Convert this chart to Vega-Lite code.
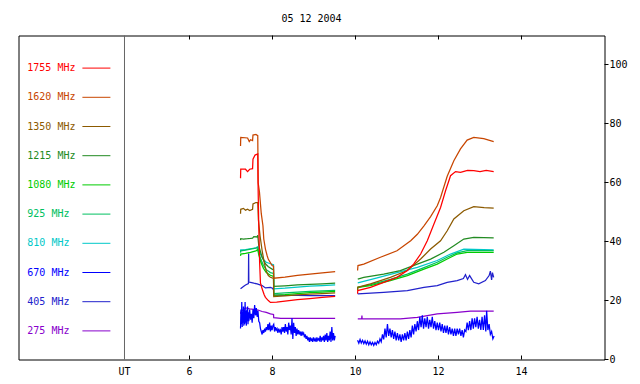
{
"$schema": "https://vega.github.io/schema/vega-lite/v6.json",
"width": 586, "height": 324,
"autosize": "none",
"padding": {"left": 18.5, "top": 35.5, "right": 35.5, "bottom": 24.5},
"background": "white",
"title": {"text": "05 12 2004", "font": "DejaVu Sans Mono", "fontSize": 10, "fontWeight": "normal", "color": "black", "anchor": "middle", "frame": "group", "baseline": "alphabetic", "offset": 3},
"config": {"view": {"stroke": "black", "strokeWidth": 1}, "font": "DejaVu Sans Mono"},
"data": {"values": [
{"f":"275 MHz","s":1,"t":7.23,"v":15.5},{"f":"275 MHz","s":1,"t":7.235,"v":16.0},{"f":"275 MHz","s":1,"t":7.30,"v":17.0},{"f":"275 MHz","s":1,"t":7.35,"v":17.5},{"f":"275 MHz","s":1,"t":7.45,"v":17.2},{"f":"275 MHz","s":1,"t":7.55,"v":17.0},{"f":"275 MHz","s":1,"t":7.65,"v":16.8},{"f":"275 MHz","s":1,"t":7.75,"v":16.3},{"f":"275 MHz","s":1,"t":7.85,"v":16.0},{"f":"275 MHz","s":1,"t":7.95,"v":15.5},{"f":"275 MHz","s":1,"t":8.025,"v":15.3},{"f":"275 MHz","s":1,"t":8.03,"v":14.2},{"f":"275 MHz","s":1,"t":8.2,"v":14.0},{"f":"275 MHz","s":1,"t":9.51,"v":14.0},
{"f":"275 MHz","s":2,"t":10.055,"v":13.8},{"f":"275 MHz","s":2,"t":10.15,"v":13.8},{"f":"275 MHz","s":2,"t":10.155,"v":14.9},{"f":"275 MHz","s":2,"t":10.16,"v":13.8},{"f":"275 MHz","s":2,"t":11.08,"v":13.8},{"f":"275 MHz","s":2,"t":11.49,"v":14.3},{"f":"275 MHz","s":2,"t":11.97,"v":15.5},{"f":"275 MHz","s":2,"t":12.45,"v":16.0},{"f":"275 MHz","s":2,"t":12.77,"v":16.4},{"f":"275 MHz","s":2,"t":13.33,"v":16.4},
{"f":"405 MHz","s":1,"t":7.23,"v":24.0},{"f":"405 MHz","s":1,"t":7.30,"v":24.8},{"f":"405 MHz","s":1,"t":7.35,"v":25.3},{"f":"405 MHz","s":1,"t":7.42,"v":25.8},{"f":"405 MHz","s":1,"t":7.425,"v":36.0},{"f":"405 MHz","s":1,"t":7.43,"v":26.3},{"f":"405 MHz","s":1,"t":7.47,"v":26.2},{"f":"405 MHz","s":1,"t":7.55,"v":25.9},{"f":"405 MHz","s":1,"t":7.63,"v":25.7},{"f":"405 MHz","s":1,"t":7.75,"v":25.1},{"f":"405 MHz","s":1,"t":7.83,"v":24.3},{"f":"405 MHz","s":1,"t":7.95,"v":24.5},{"f":"405 MHz","s":1,"t":8.0,"v":24.2},{"f":"405 MHz","s":1,"t":8.025,"v":23.6},{"f":"405 MHz","s":1,"t":8.03,"v":21.9},{"f":"405 MHz","s":1,"t":8.3,"v":21.8},{"f":"405 MHz","s":1,"t":8.6,"v":21.8},{"f":"405 MHz","s":1,"t":8.9,"v":21.7},{"f":"405 MHz","s":1,"t":9.2,"v":21.7},{"f":"405 MHz","s":1,"t":9.51,"v":21.7},
{"f":"405 MHz","s":2,"t":10.055,"v":22.3},{"f":"405 MHz","s":2,"t":10.68,"v":22.8},{"f":"405 MHz","s":2,"t":11.25,"v":23.4},{"f":"405 MHz","s":2,"t":11.65,"v":24.5},{"f":"405 MHz","s":2,"t":11.97,"v":25.1},{"f":"405 MHz","s":2,"t":12.21,"v":26.2},{"f":"405 MHz","s":2,"t":12.45,"v":26.8},{"f":"405 MHz","s":2,"t":12.6,"v":27.5},{"f":"405 MHz","s":2,"t":12.65,"v":28.8},{"f":"405 MHz","s":2,"t":12.7,"v":27.2},{"f":"405 MHz","s":2,"t":12.75,"v":28.5},{"f":"405 MHz","s":2,"t":12.85,"v":26.2},{"f":"405 MHz","s":2,"t":12.97,"v":25.7},{"f":"405 MHz","s":2,"t":13.13,"v":26.8},{"f":"405 MHz","s":2,"t":13.22,"v":28.5},{"f":"405 MHz","s":2,"t":13.25,"v":30.0},{"f":"405 MHz","s":2,"t":13.28,"v":27.0},{"f":"405 MHz","s":2,"t":13.30,"v":29.5},{"f":"405 MHz","s":2,"t":13.33,"v":27.9},
{"f":"670 MHz","s":1,"t":7.23,"v":10.5},{"f":"670 MHz","s":1,"t":7.24,"v":17},{"f":"670 MHz","s":1,"t":7.25,"v":12},{"f":"670 MHz","s":1,"t":7.26,"v":19.5},{"f":"670 MHz","s":1,"t":7.27,"v":11},{"f":"670 MHz","s":1,"t":7.28,"v":16},{"f":"670 MHz","s":1,"t":7.29,"v":12.5},{"f":"670 MHz","s":1,"t":7.30,"v":18},{"f":"670 MHz","s":1,"t":7.31,"v":11.5},{"f":"670 MHz","s":1,"t":7.32,"v":17},{"f":"670 MHz","s":1,"t":7.33,"v":12},{"f":"670 MHz","s":1,"t":7.34,"v":19.5},{"f":"670 MHz","s":1,"t":7.35,"v":12.5},{"f":"670 MHz","s":1,"t":7.36,"v":16.5},{"f":"670 MHz","s":1,"t":7.37,"v":11.5},{"f":"670 MHz","s":1,"t":7.38,"v":17},{"f":"670 MHz","s":1,"t":7.39,"v":13},{"f":"670 MHz","s":1,"t":7.40,"v":18},{"f":"670 MHz","s":1,"t":7.41,"v":12},{"f":"670 MHz","s":1,"t":7.42,"v":16},{"f":"670 MHz","s":1,"t":7.43,"v":13},{"f":"670 MHz","s":1,"t":7.45,"v":17},{"f":"670 MHz","s":1,"t":7.47,"v":13.5},{"f":"670 MHz","s":1,"t":7.49,"v":15.5},{"f":"670 MHz","s":1,"t":7.51,"v":12.5},{"f":"670 MHz","s":1,"t":7.53,"v":17},{"f":"670 MHz","s":1,"t":7.55,"v":14},{"f":"670 MHz","s":1,"t":7.57,"v":18.5},{"f":"670 MHz","s":1,"t":7.59,"v":15},{"f":"670 MHz","s":1,"t":7.61,"v":17.5},{"f":"670 MHz","s":1,"t":7.63,"v":14.5},{"f":"670 MHz","s":1,"t":7.65,"v":16.5},{"f":"670 MHz","s":1,"t":7.67,"v":13},{"f":"670 MHz","s":1,"t":7.69,"v":12.5},{"f":"670 MHz","s":1,"t":7.71,"v":10.5},{"f":"670 MHz","s":1,"t":7.73,"v":9.5},{"f":"670 MHz","s":1,"t":7.75,"v":8.5},{"f":"670 MHz","s":1,"t":7.77,"v":10},{"f":"670 MHz","s":1,"t":7.79,"v":9},{"f":"670 MHz","s":1,"t":7.81,"v":10.5},{"f":"670 MHz","s":1,"t":7.83,"v":9.5},{"f":"670 MHz","s":1,"t":7.85,"v":11},{"f":"670 MHz","s":1,"t":7.87,"v":10},{"f":"670 MHz","s":1,"t":7.89,"v":12},{"f":"670 MHz","s":1,"t":7.91,"v":10},{"f":"670 MHz","s":1,"t":7.93,"v":12.5},{"f":"670 MHz","s":1,"t":7.95,"v":9.5},{"f":"670 MHz","s":1,"t":7.97,"v":11.5},{"f":"670 MHz","s":1,"t":7.99,"v":10},{"f":"670 MHz","s":1,"t":8.01,"v":11.5},{"f":"670 MHz","s":1,"t":8.03,"v":12},{"f":"670 MHz","s":1,"t":8.05,"v":9.5},{"f":"670 MHz","s":1,"t":8.07,"v":11},{"f":"670 MHz","s":1,"t":8.09,"v":10},{"f":"670 MHz","s":1,"t":8.11,"v":10.5},{"f":"670 MHz","s":1,"t":8.13,"v":9},{"f":"670 MHz","s":1,"t":8.15,"v":10.5},{"f":"670 MHz","s":1,"t":8.17,"v":9.5},{"f":"670 MHz","s":1,"t":8.19,"v":10},{"f":"670 MHz","s":1,"t":8.21,"v":8.5},{"f":"670 MHz","s":1,"t":8.23,"v":11},{"f":"670 MHz","s":1,"t":8.25,"v":9.5},{"f":"670 MHz","s":1,"t":8.27,"v":11},{"f":"670 MHz","s":1,"t":8.29,"v":9},{"f":"670 MHz","s":1,"t":8.31,"v":12},{"f":"670 MHz","s":1,"t":8.33,"v":9.5},{"f":"670 MHz","s":1,"t":8.35,"v":11},{"f":"670 MHz","s":1,"t":8.37,"v":8.5},{"f":"670 MHz","s":1,"t":8.39,"v":12.5},{"f":"670 MHz","s":1,"t":8.41,"v":10},{"f":"670 MHz","s":1,"t":8.43,"v":11.5},{"f":"670 MHz","s":1,"t":8.45,"v":8.5},{"f":"670 MHz","s":1,"t":8.47,"v":14},{"f":"670 MHz","s":1,"t":8.49,"v":7},{"f":"670 MHz","s":1,"t":8.51,"v":12.5},{"f":"670 MHz","s":1,"t":8.53,"v":9},{"f":"670 MHz","s":1,"t":8.55,"v":11},{"f":"670 MHz","s":1,"t":8.57,"v":8},{"f":"670 MHz","s":1,"t":8.59,"v":10.5},{"f":"670 MHz","s":1,"t":8.61,"v":8.5},{"f":"670 MHz","s":1,"t":8.63,"v":10},{"f":"670 MHz","s":1,"t":8.65,"v":8.5},{"f":"670 MHz","s":1,"t":8.67,"v":9.5},{"f":"670 MHz","s":1,"t":8.69,"v":8},{"f":"670 MHz","s":1,"t":8.71,"v":9.5},{"f":"670 MHz","s":1,"t":8.73,"v":8.5},{"f":"670 MHz","s":1,"t":8.75,"v":9},{"f":"670 MHz","s":1,"t":8.77,"v":7.5},{"f":"670 MHz","s":1,"t":8.79,"v":8.5},{"f":"670 MHz","s":1,"t":8.81,"v":7},{"f":"670 MHz","s":1,"t":8.83,"v":8},{"f":"670 MHz","s":1,"t":8.85,"v":6.5},{"f":"670 MHz","s":1,"t":8.87,"v":7.5},{"f":"670 MHz","s":1,"t":8.89,"v":6},{"f":"670 MHz","s":1,"t":8.91,"v":7.5},{"f":"670 MHz","s":1,"t":8.93,"v":6.5},{"f":"670 MHz","s":1,"t":8.95,"v":7},{"f":"670 MHz","s":1,"t":8.97,"v":6},{"f":"670 MHz","s":1,"t":8.99,"v":7.5},{"f":"670 MHz","s":1,"t":9.01,"v":6.5},{"f":"670 MHz","s":1,"t":9.03,"v":7},{"f":"670 MHz","s":1,"t":9.05,"v":6},{"f":"670 MHz","s":1,"t":9.07,"v":7.5},{"f":"670 MHz","s":1,"t":9.09,"v":6.5},{"f":"670 MHz","s":1,"t":9.11,"v":7},{"f":"670 MHz","s":1,"t":9.13,"v":6.5},{"f":"670 MHz","s":1,"t":9.15,"v":8},{"f":"670 MHz","s":1,"t":9.17,"v":6},{"f":"670 MHz","s":1,"t":9.19,"v":7.5},{"f":"670 MHz","s":1,"t":9.21,"v":6.5},{"f":"670 MHz","s":1,"t":9.23,"v":8},{"f":"670 MHz","s":1,"t":9.25,"v":6},{"f":"670 MHz","s":1,"t":9.27,"v":8.5},{"f":"670 MHz","s":1,"t":9.29,"v":6.5},{"f":"670 MHz","s":1,"t":9.31,"v":9},{"f":"670 MHz","s":1,"t":9.33,"v":6},{"f":"670 MHz","s":1,"t":9.35,"v":8},{"f":"670 MHz","s":1,"t":9.37,"v":6.5},{"f":"670 MHz","s":1,"t":9.39,"v":9.5},{"f":"670 MHz","s":1,"t":9.41,"v":6},{"f":"670 MHz","s":1,"t":9.43,"v":11},{"f":"670 MHz","s":1,"t":9.45,"v":6.5},{"f":"670 MHz","s":1,"t":9.47,"v":9},{"f":"670 MHz","s":1,"t":9.49,"v":6.5},{"f":"670 MHz","s":1,"t":9.51,"v":8},
{"f":"670 MHz","s":2,"t":10.05,"v":6.5},{"f":"670 MHz","s":2,"t":10.08,"v":5.5},{"f":"670 MHz","s":2,"t":10.11,"v":6.8},{"f":"670 MHz","s":2,"t":10.14,"v":5.6},{"f":"670 MHz","s":2,"t":10.17,"v":6.5},{"f":"670 MHz","s":2,"t":10.20,"v":5.4},{"f":"670 MHz","s":2,"t":10.23,"v":6.3},{"f":"670 MHz","s":2,"t":10.26,"v":5.2},{"f":"670 MHz","s":2,"t":10.29,"v":6.2},{"f":"670 MHz","s":2,"t":10.32,"v":5.0},{"f":"670 MHz","s":2,"t":10.35,"v":6.0},{"f":"670 MHz","s":2,"t":10.38,"v":5.0},{"f":"670 MHz","s":2,"t":10.41,"v":5.8},{"f":"670 MHz","s":2,"t":10.44,"v":4.8},{"f":"670 MHz","s":2,"t":10.47,"v":5.8},{"f":"670 MHz","s":2,"t":10.50,"v":5.0},{"f":"670 MHz","s":2,"t":10.53,"v":6.2},{"f":"670 MHz","s":2,"t":10.56,"v":5.5},{"f":"670 MHz","s":2,"t":10.59,"v":7.0},{"f":"670 MHz","s":2,"t":10.62,"v":6.0},{"f":"670 MHz","s":2,"t":10.65,"v":8.5},{"f":"670 MHz","s":2,"t":10.68,"v":6.8},{"f":"670 MHz","s":2,"t":10.71,"v":10.5},{"f":"670 MHz","s":2,"t":10.74,"v":7.5},{"f":"670 MHz","s":2,"t":10.77,"v":12},{"f":"670 MHz","s":2,"t":10.80,"v":8},{"f":"670 MHz","s":2,"t":10.83,"v":10.5},{"f":"670 MHz","s":2,"t":10.86,"v":7.5},{"f":"670 MHz","s":2,"t":10.89,"v":10},{"f":"670 MHz","s":2,"t":10.92,"v":7},{"f":"670 MHz","s":2,"t":10.95,"v":9.5},{"f":"670 MHz","s":2,"t":10.98,"v":6.5},{"f":"670 MHz","s":2,"t":11.01,"v":9},{"f":"670 MHz","s":2,"t":11.04,"v":6.5},{"f":"670 MHz","s":2,"t":11.07,"v":8.5},{"f":"670 MHz","s":2,"t":11.10,"v":6},{"f":"670 MHz","s":2,"t":11.13,"v":8.5},{"f":"670 MHz","s":2,"t":11.16,"v":6.5},{"f":"670 MHz","s":2,"t":11.19,"v":9},{"f":"670 MHz","s":2,"t":11.22,"v":6.5},{"f":"670 MHz","s":2,"t":11.25,"v":9.5},{"f":"670 MHz","s":2,"t":11.28,"v":7},{"f":"670 MHz","s":2,"t":11.31,"v":10},{"f":"670 MHz","s":2,"t":11.34,"v":7.5},{"f":"670 MHz","s":2,"t":11.37,"v":11.5},{"f":"670 MHz","s":2,"t":11.40,"v":8.5},{"f":"670 MHz","s":2,"t":11.43,"v":12},{"f":"670 MHz","s":2,"t":11.46,"v":9.5},{"f":"670 MHz","s":2,"t":11.49,"v":13},{"f":"670 MHz","s":2,"t":11.52,"v":10},{"f":"670 MHz","s":2,"t":11.55,"v":14.5},{"f":"670 MHz","s":2,"t":11.58,"v":11},{"f":"670 MHz","s":2,"t":11.61,"v":15},{"f":"670 MHz","s":2,"t":11.64,"v":10.5},{"f":"670 MHz","s":2,"t":11.67,"v":14},{"f":"670 MHz","s":2,"t":11.70,"v":11},{"f":"670 MHz","s":2,"t":11.73,"v":14.5},{"f":"670 MHz","s":2,"t":11.76,"v":10.5},{"f":"670 MHz","s":2,"t":11.79,"v":13.5},{"f":"670 MHz","s":2,"t":11.82,"v":11},{"f":"670 MHz","s":2,"t":11.85,"v":14.5},{"f":"670 MHz","s":2,"t":11.88,"v":10.5},{"f":"670 MHz","s":2,"t":11.91,"v":13},{"f":"670 MHz","s":2,"t":11.94,"v":10},{"f":"670 MHz","s":2,"t":11.97,"v":12.5},{"f":"670 MHz","s":2,"t":12.00,"v":10},{"f":"670 MHz","s":2,"t":12.03,"v":12.5},{"f":"670 MHz","s":2,"t":12.06,"v":9.5},{"f":"670 MHz","s":2,"t":12.09,"v":12},{"f":"670 MHz","s":2,"t":12.12,"v":9},{"f":"670 MHz","s":2,"t":12.15,"v":11.5},{"f":"670 MHz","s":2,"t":12.18,"v":9},{"f":"670 MHz","s":2,"t":12.21,"v":11.5},{"f":"670 MHz","s":2,"t":12.24,"v":8.5},{"f":"670 MHz","s":2,"t":12.27,"v":11},{"f":"670 MHz","s":2,"t":12.30,"v":8.5},{"f":"670 MHz","s":2,"t":12.33,"v":10.5},{"f":"670 MHz","s":2,"t":12.36,"v":8},{"f":"670 MHz","s":2,"t":12.39,"v":10.5},{"f":"670 MHz","s":2,"t":12.42,"v":8},{"f":"670 MHz","s":2,"t":12.45,"v":10.5},{"f":"670 MHz","s":2,"t":12.48,"v":8.5},{"f":"670 MHz","s":2,"t":12.51,"v":10.5},{"f":"670 MHz","s":2,"t":12.54,"v":8},{"f":"670 MHz","s":2,"t":12.57,"v":10},{"f":"670 MHz","s":2,"t":12.60,"v":7.5},{"f":"670 MHz","s":2,"t":12.63,"v":10},{"f":"670 MHz","s":2,"t":12.66,"v":9.5},{"f":"670 MHz","s":2,"t":12.69,"v":12.5},{"f":"670 MHz","s":2,"t":12.72,"v":10},{"f":"670 MHz","s":2,"t":12.75,"v":13},{"f":"670 MHz","s":2,"t":12.78,"v":10},{"f":"670 MHz","s":2,"t":12.81,"v":14},{"f":"670 MHz","s":2,"t":12.84,"v":10.5},{"f":"670 MHz","s":2,"t":12.87,"v":14},{"f":"670 MHz","s":2,"t":12.90,"v":11},{"f":"670 MHz","s":2,"t":12.93,"v":14.5},{"f":"670 MHz","s":2,"t":12.96,"v":10.5},{"f":"670 MHz","s":2,"t":12.99,"v":13.5},{"f":"670 MHz","s":2,"t":13.02,"v":10},{"f":"670 MHz","s":2,"t":13.05,"v":14.5},{"f":"670 MHz","s":2,"t":13.08,"v":10},{"f":"670 MHz","s":2,"t":13.11,"v":15},{"f":"670 MHz","s":2,"t":13.14,"v":9.5},{"f":"670 MHz","s":2,"t":13.16,"v":16.5},{"f":"670 MHz","s":2,"t":13.19,"v":10},{"f":"670 MHz","s":2,"t":13.22,"v":12},{"f":"670 MHz","s":2,"t":13.25,"v":8.5},{"f":"670 MHz","s":2,"t":13.28,"v":9.5},{"f":"670 MHz","s":2,"t":13.31,"v":7},{"f":"670 MHz","s":2,"t":13.34,"v":8},
{"f":"810 MHz","s":1,"t":7.23,"v":36.8},{"f":"810 MHz","s":1,"t":7.235,"v":37.2},{"f":"810 MHz","s":1,"t":7.35,"v":37.3},{"f":"810 MHz","s":1,"t":7.47,"v":37.6},{"f":"810 MHz","s":1,"t":7.60,"v":37.9},{"f":"810 MHz","s":1,"t":7.645,"v":38.3},{"f":"810 MHz","s":1,"t":7.67,"v":37},{"f":"810 MHz","s":1,"t":7.72,"v":35.5},{"f":"810 MHz","s":1,"t":7.78,"v":34},{"f":"810 MHz","s":1,"t":7.85,"v":33},{"f":"810 MHz","s":1,"t":7.95,"v":32.5},{"f":"810 MHz","s":1,"t":8.025,"v":32.2},{"f":"810 MHz","s":1,"t":8.03,"v":24.0},{"f":"810 MHz","s":1,"t":8.3,"v":24.2},{"f":"810 MHz","s":1,"t":8.6,"v":24.6},{"f":"810 MHz","s":1,"t":8.9,"v":24.9},{"f":"810 MHz","s":1,"t":9.2,"v":25.1},{"f":"810 MHz","s":1,"t":9.51,"v":25.3},
{"f":"810 MHz","s":2,"t":10.055,"v":26.0},{"f":"810 MHz","s":2,"t":10.5,"v":27.6},{"f":"810 MHz","s":2,"t":11.0,"v":29.5},{"f":"810 MHz","s":2,"t":11.49,"v":31.3},{"f":"810 MHz","s":2,"t":11.97,"v":33.6},{"f":"810 MHz","s":2,"t":12.29,"v":35.8},{"f":"810 MHz","s":2,"t":12.61,"v":37.5},{"f":"810 MHz","s":2,"t":13.33,"v":37.2},
{"f":"925 MHz","s":1,"t":7.23,"v":36.3},{"f":"925 MHz","s":1,"t":7.235,"v":36.9},{"f":"925 MHz","s":1,"t":7.35,"v":37.1},{"f":"925 MHz","s":1,"t":7.47,"v":37.5},{"f":"925 MHz","s":1,"t":7.60,"v":37.8},{"f":"925 MHz","s":1,"t":7.645,"v":38.0},{"f":"925 MHz","s":1,"t":7.67,"v":36},{"f":"925 MHz","s":1,"t":7.72,"v":34},{"f":"925 MHz","s":1,"t":7.78,"v":32},{"f":"925 MHz","s":1,"t":7.85,"v":30.5},{"f":"925 MHz","s":1,"t":7.95,"v":29.5},{"f":"925 MHz","s":1,"t":8.025,"v":29.2},{"f":"925 MHz","s":1,"t":8.03,"v":22.4},{"f":"925 MHz","s":1,"t":8.3,"v":22.6},{"f":"925 MHz","s":1,"t":8.6,"v":22.9},{"f":"925 MHz","s":1,"t":8.9,"v":23.1},{"f":"925 MHz","s":1,"t":9.2,"v":23.3},{"f":"925 MHz","s":1,"t":9.51,"v":23.5},
{"f":"925 MHz","s":2,"t":10.055,"v":24.5},{"f":"925 MHz","s":2,"t":10.36,"v":25.4},{"f":"925 MHz","s":2,"t":10.84,"v":27.2},{"f":"925 MHz","s":2,"t":11.25,"v":29},{"f":"925 MHz","s":2,"t":11.65,"v":31.2},{"f":"925 MHz","s":2,"t":11.97,"v":33},{"f":"925 MHz","s":2,"t":12.21,"v":34.7},{"f":"925 MHz","s":2,"t":12.45,"v":36.2},{"f":"925 MHz","s":2,"t":12.69,"v":37},{"f":"925 MHz","s":2,"t":13.33,"v":37.0},
{"f":"1080 MHz","s":1,"t":7.23,"v":35.2},{"f":"1080 MHz","s":1,"t":7.235,"v":35.8},{"f":"1080 MHz","s":1,"t":7.35,"v":36.0},{"f":"1080 MHz","s":1,"t":7.47,"v":36.4},{"f":"1080 MHz","s":1,"t":7.60,"v":36.9},{"f":"1080 MHz","s":1,"t":7.645,"v":37.3},{"f":"1080 MHz","s":1,"t":7.67,"v":35.5},{"f":"1080 MHz","s":1,"t":7.72,"v":33},{"f":"1080 MHz","s":1,"t":7.78,"v":31},{"f":"1080 MHz","s":1,"t":7.85,"v":29.5},{"f":"1080 MHz","s":1,"t":7.95,"v":28.6},{"f":"1080 MHz","s":1,"t":8.025,"v":28.2},{"f":"1080 MHz","s":1,"t":8.03,"v":21.8},{"f":"1080 MHz","s":1,"t":8.3,"v":22.0},{"f":"1080 MHz","s":1,"t":8.6,"v":22.4},{"f":"1080 MHz","s":1,"t":8.9,"v":22.7},{"f":"1080 MHz","s":1,"t":9.2,"v":22.9},{"f":"1080 MHz","s":1,"t":9.51,"v":23.1},
{"f":"1080 MHz","s":2,"t":10.05,"v":23.5},{"f":"1080 MHz","s":2,"t":10.055,"v":24.5},{"f":"1080 MHz","s":2,"t":10.36,"v":25.1},{"f":"1080 MHz","s":2,"t":10.84,"v":26.8},{"f":"1080 MHz","s":2,"t":11.25,"v":28.5},{"f":"1080 MHz","s":2,"t":11.65,"v":30.7},{"f":"1080 MHz","s":2,"t":11.97,"v":32.4},{"f":"1080 MHz","s":2,"t":12.21,"v":34.1},{"f":"1080 MHz","s":2,"t":12.45,"v":35.8},{"f":"1080 MHz","s":2,"t":12.69,"v":36.4},{"f":"1080 MHz","s":2,"t":13.33,"v":36.4},
{"f":"1215 MHz","s":1,"t":7.23,"v":40.5},{"f":"1215 MHz","s":1,"t":7.235,"v":41.0},{"f":"1215 MHz","s":1,"t":7.30,"v":40.9},{"f":"1215 MHz","s":1,"t":7.40,"v":41.0},{"f":"1215 MHz","s":1,"t":7.47,"v":41.1},{"f":"1215 MHz","s":1,"t":7.52,"v":41.2},{"f":"1215 MHz","s":1,"t":7.55,"v":41.7},{"f":"1215 MHz","s":1,"t":7.63,"v":41.6},{"f":"1215 MHz","s":1,"t":7.645,"v":42.2},{"f":"1215 MHz","s":1,"t":7.67,"v":38.6},{"f":"1215 MHz","s":1,"t":7.75,"v":34.7},{"f":"1215 MHz","s":1,"t":7.83,"v":32.5},{"f":"1215 MHz","s":1,"t":7.90,"v":31.5},{"f":"1215 MHz","s":1,"t":7.99,"v":30.7},{"f":"1215 MHz","s":1,"t":8.025,"v":30.5},{"f":"1215 MHz","s":1,"t":8.03,"v":24.8},{"f":"1215 MHz","s":1,"t":8.3,"v":25.0},{"f":"1215 MHz","s":1,"t":8.6,"v":25.3},{"f":"1215 MHz","s":1,"t":8.9,"v":25.5},{"f":"1215 MHz","s":1,"t":9.2,"v":25.7},{"f":"1215 MHz","s":1,"t":9.51,"v":25.9},
{"f":"1215 MHz","s":2,"t":10.055,"v":27.3},{"f":"1215 MHz","s":2,"t":10.2,"v":27.9},{"f":"1215 MHz","s":2,"t":10.68,"v":29},{"f":"1215 MHz","s":2,"t":11.08,"v":30.2},{"f":"1215 MHz","s":2,"t":11.49,"v":32.4},{"f":"1215 MHz","s":2,"t":11.81,"v":34.1},{"f":"1215 MHz","s":2,"t":12.13,"v":36.4},{"f":"1215 MHz","s":2,"t":12.37,"v":38.6},{"f":"1215 MHz","s":2,"t":12.61,"v":40.9},{"f":"1215 MHz","s":2,"t":12.85,"v":41.5},{"f":"1215 MHz","s":2,"t":13.33,"v":41.3},
{"f":"1350 MHz","s":1,"t":7.23,"v":49.5},{"f":"1350 MHz","s":1,"t":7.235,"v":51.0},{"f":"1350 MHz","s":1,"t":7.30,"v":51.3},{"f":"1350 MHz","s":1,"t":7.35,"v":50.7},{"f":"1350 MHz","s":1,"t":7.40,"v":51.0},{"f":"1350 MHz","s":1,"t":7.45,"v":50.6},{"f":"1350 MHz","s":1,"t":7.52,"v":51.0},{"f":"1350 MHz","s":1,"t":7.53,"v":52.8},{"f":"1350 MHz","s":1,"t":7.60,"v":53.3},{"f":"1350 MHz","s":1,"t":7.645,"v":53.3},{"f":"1350 MHz","s":1,"t":7.66,"v":47.5},{"f":"1350 MHz","s":1,"t":7.70,"v":42},{"f":"1350 MHz","s":1,"t":7.75,"v":37},{"f":"1350 MHz","s":1,"t":7.80,"v":33},{"f":"1350 MHz","s":1,"t":7.85,"v":30},{"f":"1350 MHz","s":1,"t":7.90,"v":28.5},{"f":"1350 MHz","s":1,"t":7.95,"v":27.9},{"f":"1350 MHz","s":1,"t":8.025,"v":27.5},{"f":"1350 MHz","s":1,"t":8.03,"v":21.4},{"f":"1350 MHz","s":1,"t":8.3,"v":21.6},{"f":"1350 MHz","s":1,"t":8.6,"v":21.9},{"f":"1350 MHz","s":1,"t":8.9,"v":22.2},{"f":"1350 MHz","s":1,"t":9.2,"v":22.4},{"f":"1350 MHz","s":1,"t":9.51,"v":22.6},
{"f":"1350 MHz","s":2,"t":10.05,"v":23.5},{"f":"1350 MHz","s":2,"t":10.055,"v":24.5},{"f":"1350 MHz","s":2,"t":10.36,"v":25.7},{"f":"1350 MHz","s":2,"t":10.84,"v":27.9},{"f":"1350 MHz","s":2,"t":11.25,"v":30.2},{"f":"1350 MHz","s":2,"t":11.57,"v":34.1},{"f":"1350 MHz","s":2,"t":11.81,"v":37.5},{"f":"1350 MHz","s":2,"t":12.05,"v":40.3},{"f":"1350 MHz","s":2,"t":12.21,"v":43.7},{"f":"1350 MHz","s":2,"t":12.37,"v":47.7},{"f":"1350 MHz","s":2,"t":12.61,"v":50.5},{"f":"1350 MHz","s":2,"t":12.85,"v":51.9},{"f":"1350 MHz","s":2,"t":13.1,"v":51.6},{"f":"1350 MHz","s":2,"t":13.33,"v":51.4},
{"f":"1620 MHz","s":1,"t":7.23,"v":72.5},{"f":"1620 MHz","s":1,"t":7.235,"v":75.4},{"f":"1620 MHz","s":1,"t":7.40,"v":75.2},{"f":"1620 MHz","s":1,"t":7.44,"v":74.0},{"f":"1620 MHz","s":1,"t":7.47,"v":74.6},{"f":"1620 MHz","s":1,"t":7.52,"v":74.3},{"f":"1620 MHz","s":1,"t":7.53,"v":76.2},{"f":"1620 MHz","s":1,"t":7.60,"v":76.4},{"f":"1620 MHz","s":1,"t":7.645,"v":76.0},{"f":"1620 MHz","s":1,"t":7.655,"v":60},{"f":"1620 MHz","s":1,"t":7.685,"v":57},{"f":"1620 MHz","s":1,"t":7.73,"v":49.5},{"f":"1620 MHz","s":1,"t":7.77,"v":45.4},{"f":"1620 MHz","s":1,"t":7.79,"v":40.9},{"f":"1620 MHz","s":1,"t":7.83,"v":37.5},{"f":"1620 MHz","s":1,"t":7.87,"v":35.3},{"f":"1620 MHz","s":1,"t":7.90,"v":34},{"f":"1620 MHz","s":1,"t":7.99,"v":31.9},{"f":"1620 MHz","s":1,"t":8.025,"v":31.7},{"f":"1620 MHz","s":1,"t":8.03,"v":27.6},{"f":"1620 MHz","s":1,"t":8.3,"v":28.0},{"f":"1620 MHz","s":1,"t":8.6,"v":28.6},{"f":"1620 MHz","s":1,"t":8.9,"v":29.0},{"f":"1620 MHz","s":1,"t":9.2,"v":29.4},{"f":"1620 MHz","s":1,"t":9.51,"v":29.8},
{"f":"1620 MHz","s":2,"t":10.05,"v":30.2},{"f":"1620 MHz","s":2,"t":10.06,"v":31.9},{"f":"1620 MHz","s":2,"t":10.2,"v":32.4},{"f":"1620 MHz","s":2,"t":10.6,"v":34.7},{"f":"1620 MHz","s":2,"t":11.0,"v":36.9},{"f":"1620 MHz","s":2,"t":11.33,"v":40.3},{"f":"1620 MHz","s":2,"t":11.49,"v":42.5},{"f":"1620 MHz","s":2,"t":11.65,"v":45.4},{"f":"1620 MHz","s":2,"t":11.81,"v":48.5},{"f":"1620 MHz","s":2,"t":11.97,"v":52.2},{"f":"1620 MHz","s":2,"t":12.05,"v":55},{"f":"1620 MHz","s":2,"t":12.21,"v":62.2},{"f":"1620 MHz","s":2,"t":12.37,"v":67.5},{"f":"1620 MHz","s":2,"t":12.53,"v":71.5},{"f":"1620 MHz","s":2,"t":12.69,"v":74.5},{"f":"1620 MHz","s":2,"t":12.85,"v":75.4},{"f":"1620 MHz","s":2,"t":13.09,"v":75.0},{"f":"1620 MHz","s":2,"t":13.33,"v":74.0},
{"f":"1755 MHz","s":1,"t":7.23,"v":61.5},{"f":"1755 MHz","s":1,"t":7.235,"v":64.6},{"f":"1755 MHz","s":1,"t":7.35,"v":64.6},{"f":"1755 MHz","s":1,"t":7.40,"v":63.8},{"f":"1755 MHz","s":1,"t":7.45,"v":64.6},{"f":"1755 MHz","s":1,"t":7.52,"v":64.8},{"f":"1755 MHz","s":1,"t":7.53,"v":68},{"f":"1755 MHz","s":1,"t":7.58,"v":69.4},{"f":"1755 MHz","s":1,"t":7.645,"v":69.8},{"f":"1755 MHz","s":1,"t":7.655,"v":57},{"f":"1755 MHz","s":1,"t":7.67,"v":45},{"f":"1755 MHz","s":1,"t":7.69,"v":33},{"f":"1755 MHz","s":1,"t":7.71,"v":26},{"f":"1755 MHz","s":1,"t":7.75,"v":24},{"f":"1755 MHz","s":1,"t":7.80,"v":22},{"f":"1755 MHz","s":1,"t":7.83,"v":21.1},{"f":"1755 MHz","s":1,"t":7.90,"v":20},{"f":"1755 MHz","s":1,"t":7.95,"v":19.4},{"f":"1755 MHz","s":1,"t":8.1,"v":19.5},{"f":"1755 MHz","s":1,"t":8.3,"v":19.8},{"f":"1755 MHz","s":1,"t":8.6,"v":20.3},{"f":"1755 MHz","s":1,"t":8.9,"v":20.7},{"f":"1755 MHz","s":1,"t":9.2,"v":21.1},{"f":"1755 MHz","s":1,"t":9.51,"v":21.4},
{"f":"1755 MHz","s":2,"t":10.05,"v":22.3},{"f":"1755 MHz","s":2,"t":10.055,"v":23.4},{"f":"1755 MHz","s":2,"t":10.36,"v":24.5},{"f":"1755 MHz","s":2,"t":10.68,"v":26.2},{"f":"1755 MHz","s":2,"t":11.0,"v":27.9},{"f":"1755 MHz","s":2,"t":11.25,"v":30.2},{"f":"1755 MHz","s":2,"t":11.40,"v":32.4},{"f":"1755 MHz","s":2,"t":11.57,"v":35.8},{"f":"1755 MHz","s":2,"t":11.73,"v":40.3},{"f":"1755 MHz","s":2,"t":11.89,"v":46},{"f":"1755 MHz","s":2,"t":12.05,"v":51.6},{"f":"1755 MHz","s":2,"t":12.17,"v":57.3},{"f":"1755 MHz","s":2,"t":12.29,"v":62.4},{"f":"1755 MHz","s":2,"t":12.41,"v":63.8},{"f":"1755 MHz","s":2,"t":12.53,"v":63.5},{"f":"1755 MHz","s":2,"t":12.7,"v":64.2},{"f":"1755 MHz","s":2,"t":12.85,"v":64.1},{"f":"1755 MHz","s":2,"t":13.0,"v":63.8},{"f":"1755 MHz","s":2,"t":13.15,"v":64.2},{"f":"1755 MHz","s":2,"t":13.33,"v":63.8}
]},
"layer": [
 {
  "data": {"values": [{}]},
  "mark": {"type": "rule", "color": "#666666", "strokeWidth": 1},
  "encoding": {
   "x": {"datum": 4.434, "type": "quantitative",
    "scale": {"domain": [1.88, 16], "nice": false, "zero": false},
    "axis": {"orient": "top", "values": [6, 8, 10, 12, 14], "labels": false, "domain": false, "grid": false, "tickSize": -4, "tickColor": "black", "title": null, "translate": 0}}
  }
 },
 {
  "mark": {"type": "line", "strokeWidth": 1.25, "interpolate": "linear"},
  "encoding": {
   "x": {"field": "t", "type": "quantitative",
    "scale": {"domain": [1.88, 16], "nice": false, "zero": false},
    "axis": {"orient": "bottom", "values": [4.434, 6, 8, 10, 12, 14], "labelExpr": "datum.value < 5 ? 'UT' : datum.label", "domain": false, "grid": false, "tickSize": -4, "tickColor": {"condition": {"test": "datum.value < 5", "value": "transparent"}, "value": "black"}, "labelPadding": 11, "labelFont": "DejaVu Sans Mono", "labelFontSize": 10, "labelColor": "black", "title": null, "translate": 0, "labelFlush": false, "labelOverlap": false}},
   "y": {"field": "v", "type": "quantitative",
    "scale": {"domain": [0, 110], "nice": false},
    "axis": {"orient": "right", "values": [0, 20, 40, 60, 80, 100], "domain": false, "grid": false, "tickSize": 4, "tickColor": "black", "labelPadding": 1, "labelFont": "DejaVu Sans Mono", "labelFontSize": 10, "labelColor": "black", "title": null, "translate": 0, "labelFlush": false, "labelOverlap": false}},
   "color": {"field": "f", "type": "nominal",
    "scale": {"domain": ["1755 MHz", "1620 MHz", "1350 MHz", "1215 MHz", "1080 MHz", "925 MHz", "810 MHz", "670 MHz", "405 MHz", "275 MHz"],
              "range": ["#ff0000", "#c84600", "#8c5a00", "#228b22", "#00cc00", "#00c060", "#00c8c8", "#0000ff", "#2222cc", "#8800cc"]},
    "legend": {"orient": "none", "legendX": 63.4, "legendY": 18.1, "title": null, "symbolType": "stroke", "symbolSize": 784, "symbolStrokeWidth": 1, "labelFont": "DejaVu Sans Mono", "labelFontSize": 10, "labelOffset": -83.6, "labelBaseline": "middle", "labelExpr": "length(datum.label) < 8 ? '\u00a0' + datum.label : datum.label", "rowPadding": 9.2, "padding": 0,
      "encode": {
        "symbols": {"update": {"stroke": {"scale": "color", "field": "value"}, "strokeWidth": {"value": 1}, "opacity": {"value": 1}}},
        "labels": {"update": {"fill": {"scale": "color", "field": "value"}}}}}},
   "detail": {"field": "s", "type": "nominal"}
  }
 }
],
"resolve": {"axis": {"x": "independent"}}
}
